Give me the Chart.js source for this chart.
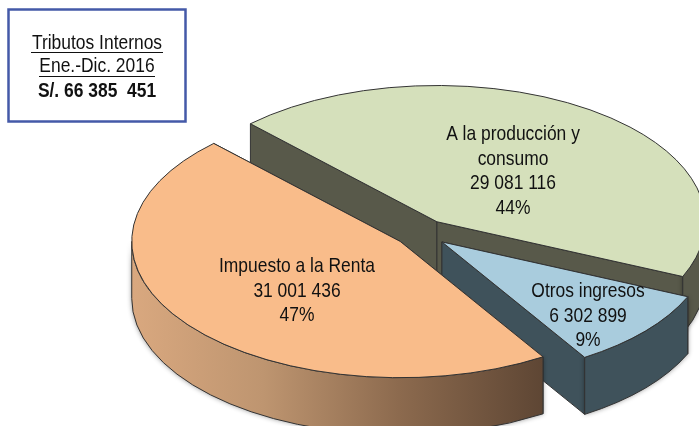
<!DOCTYPE html>
<html>
<head>
<meta charset="utf-8">
<style>html,body{margin:0;padding:0;background:#fff;overflow:hidden}canvas{display:block}</style>
<script src="https://cdn.jsdelivr.net/npm/chart.js@4"></script>
</head>
<body>
<canvas id="c" width="699" height="426"></canvas>
<script>
const categories = ["A la producción y consumo", "Otros ingresos", "Impuesto a la Renta"];
const values = [29081116, 6302899, 31001436];
const labelLines = [["A la producción y", "consumo"], ["Otros ingresos"], ["Impuesto a la Renta"]];
const boxLines = ["Tributos Internos", "Ene.-Dic. 2016", "S/. 66 385  451"];
const topColors = ["#D5E0BB", "#A9CCDD", "#F9BC8A"];
const wallColors = ["#58594A", "#3F525B", "#C49A74"];
const LINE = "#333333";
const RADIUS = 268.5, TILT = 0.5075, DEPTH = 57, EXPLODE = 27, ROTATION = -44;
const labelCenters = [[513, 134.5], [588, 291.5], [297, 266.5]];
const LINE_GAP = 24.6;
const TEXT_SCALE = 0.83;
const fmt = v => String(v).replace(/\B(?=(\d{3})+$)/g, " ");

function place(el) {
  const mid = (el.startAngle + el.endAngle) / 2;
  return { x: el.x + Math.cos(mid) * EXPLODE, y: el.y + Math.sin(mid) * EXPLODE * TILT };
}
function pt(c, el, a) {
  return [c.x + Math.cos(a) * el.outerRadius, c.y + Math.sin(a) * el.outerRadius * TILT];
}
function ellipseArc(ctx, c, el, dy, a0, a1, ccw) {
  ctx.ellipse(c.x, c.y + dy, el.outerRadius, el.outerRadius * TILT, 0, a0, a1, ccw);
}
function paint(ctx, fill) {
  ctx.fillStyle = fill;
  ctx.fill();
  ctx.shadowColor = "transparent";
  ctx.strokeStyle = LINE;
  ctx.lineWidth = 1;
  ctx.stroke();
}
function radialFace(ctx, c, el, a, fill) {
  const p = pt(c, el, a);
  ctx.beginPath();
  ctx.moveTo(c.x, c.y);
  ctx.lineTo(p[0], p[1]);
  ctx.lineTo(p[0], p[1] + DEPTH);
  ctx.lineTo(c.x, c.y + DEPTH);
  ctx.closePath();
  paint(ctx, fill);
}
function outerWall(ctx, c, el, fill) {
  const a0 = Math.max(el.startAngle, 0), a1 = Math.min(el.endAngle, Math.PI);
  if (a1 <= a0) return;
  ctx.beginPath();
  ellipseArc(ctx, c, el, 0, a0, a1, false);
  ellipseArc(ctx, c, el, DEPTH, a1, a0, true);
  ctx.closePath();
  ctx.shadowColor = "rgba(0,0,0,0.45)";
  ctx.shadowBlur = 5;
  paint(ctx, fill);
}
const pie3d = {
  id: "pie3d",
  beforeDatasetsDraw(chart) {
    const ctx = chart.ctx, arcs = chart.getDatasetMeta(0).data;
    arcs.forEach((el, i) => {
      const c = place(el);
      let wall = wallColors[i];
      if (i === 2) {
        const g = ctx.createLinearGradient(c.x - el.outerRadius, 0, pt(c, el, el.startAngle)[0], 0);
        g.addColorStop(0, "#D9A87F");
        g.addColorStop(0.32, "#BE9570");
        g.addColorStop(0.65, "#8C6A4E");
        g.addColorStop(1, "#5E4634");
        wall = g;
      }
      ctx.save();
      radialFace(ctx, c, el, el.startAngle, wallColors[i]);
      radialFace(ctx, c, el, el.endAngle, wallColors[i]);
      outerWall(ctx, c, el, wall);
      ctx.restore();
      ctx.save();
      ctx.translate(c.x, c.y);
      ctx.scale(1, TILT);
      ctx.translate(-el.x, -el.y);
      el.draw(ctx);
      ctx.restore();
      ctx.save();
      ctx.beginPath();
      ctx.moveTo(c.x, c.y);
      ellipseArc(ctx, c, el, 0, el.startAngle, el.endAngle, false);
      ctx.closePath();
      ctx.strokeStyle = LINE;
      ctx.lineWidth = 1;
      ctx.stroke();
      ctx.restore();
    });
    return false;
  },
  afterDraw(chart) {
    const ctx = chart.ctx;
    const text = (s, x, y, font) => {
      ctx.save();
      ctx.font = font;
      ctx.fillStyle = "#111";
      ctx.textAlign = "center";
      ctx.textBaseline = "middle";
      ctx.translate(x, y);
      ctx.scale(TEXT_SCALE, 1);
      ctx.fillText(s, 0, 0);
      ctx.restore();
    };
    const total = values.reduce((a, b) => a + b, 0);
    const reg = '21px "Liberation Sans"';
    values.forEach((v, i) => {
      const lines = labelLines[i].concat([fmt(v), Math.round(v / total * 100) + "%"]);
      lines.forEach((s, k) => text(s, labelCenters[i][0], labelCenters[i][1] + k * LINE_GAP, reg));
    });
    ctx.save();
    ctx.strokeStyle = "#4459A8";
    ctx.lineWidth = 2.5;
    ctx.strokeRect(8.5, 9.5, 177, 112);
    ctx.restore();
    text(boxLines[0], 97, 43.5, reg);
    text(boxLines[1], 97, 66.5, reg);
    text(boxLines[2], 97, 91.5, 'bold 21px "Liberation Sans"');
    ctx.save();
    ctx.strokeStyle = "#111";
    ctx.lineWidth = 1;
    ctx.beginPath();
    ctx.moveTo(31, 52.5); ctx.lineTo(163, 52.5);
    ctx.moveTo(39, 76.5); ctx.lineTo(155, 76.5);
    ctx.stroke();
    ctx.restore();
  }
};
new Chart(document.getElementById("c"), {
  type: "pie",
  data: {
    labels: categories,
    datasets: [{ data: values, backgroundColor: topColors, borderWidth: 0 }]
  },
  options: {
    responsive: false,
    animation: false,
    radius: RADIUS,
    rotation: ROTATION,
    layout: { padding: { left: 144, top: 40 } },
    plugins: { legend: { display: false }, tooltip: { enabled: false }, title: { display: false } },
    events: []
  },
  plugins: [pie3d]
});
</script>
</body>
</html>
